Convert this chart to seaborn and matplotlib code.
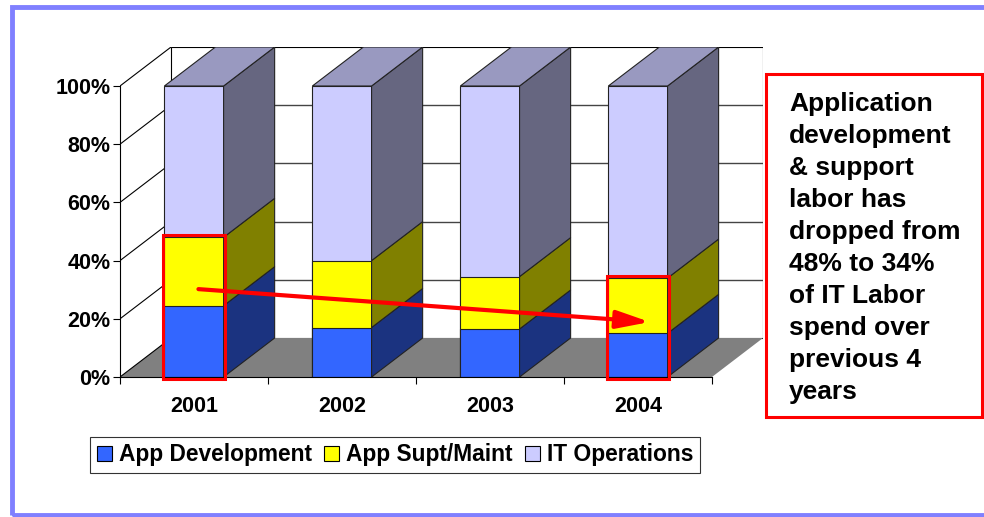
import numpy as np
import pandas as pd
import matplotlib
matplotlib.use("Agg")
import matplotlib.pyplot as plt
import seaborn as sns
from matplotlib.patches import Polygon, Rectangle, Patch

# values (percent of IT labor spend)
years = ["2001", "2002", "2003", "2004"]
app_dev = [24.5, 17, 16.5, 15]
app_supt = [23.5, 23, 18, 19]
it_ops = [52, 60, 65.5, 66]
series_names = ["App Development", "App Supt/Maint", "IT Operations"]
y_ticks = [0, 20, 40, 60, 80, 100]
y_tick_labels = ["0%", "20%", "40%", "60%", "80%", "100%"]
highlight = [0, 3]
note = ("Application\ndevelopment\n& support\nlabor has\ndropped from\n"
        "48% to 34%\nof IT Labor\nspend over\nprevious 4\nyears")

# front / side / top colours per series
front = ["#3366FF", "#FFFF00", "#CCCCFF"]
side = ["#1B3380", "#808000", "#666680"]
top_col = "#9999C0"

sns.set_theme(style="white")
plt.rcParams["font.family"] = ["Liberation Sans", "DejaVu Sans"]
plt.rcParams["font.weight"] = "bold"
for k in ["text.color", "xtick.color", "ytick.color", "axes.labelcolor"]:
    plt.rcParams[k] = "black"

df = pd.DataFrame({"year": years, "dev": app_dev, "supt": app_supt, "ops": it_ops})
df["c1"] = df["dev"]
df["c2"] = df["dev"] + df["supt"]
df["c3"] = df["c2"] + df["ops"]

W = 0.4      # bar width in category units
DX = 0.345   # depth offset, x
DY = 13.4    # depth offset, y (percent units)
n = len(years)
x0, x1 = -0.5, n - 0.5

fig = plt.figure(figsize=(9.84, 5.17), dpi=100)
ax = fig.add_axes([120 / 984, 1 - 377 / 517, 643 / 984, 330 / 517])

# back wall, floor, left-wall grid lines
ax.add_patch(Polygon([(x0 + DX, DY), (x1 + DX, DY), (x1 + DX, 100 + DY), (x0 + DX, 100 + DY)],
                     fc="white", ec="black", lw=0.8, zorder=0.1))
ax.add_patch(Polygon([(x0, 0), (x1, 0), (x1 + DX, DY), (x0 + DX, DY)],
                     fc="#808080", ec="none", zorder=0.2))
for v in y_ticks:
    ax.plot([x0, x0 + DX], [v, v + DY], color="black", lw=0.8, zorder=0.3)
    if 0 < v < 100:
        ax.plot([x0 + DX, x1 + DX], [v + DY, v + DY], color="#444444", lw=1, zorder=0.3)

# front faces with seaborn (tallest first so the stack shows)
for col, c in zip(["c3", "c2", "c1"], front[::-1]):
    sns.barplot(data=df, x="year", y=col, color=c, saturation=1, width=W,
                errorbar=None, edgecolor="#222222", linewidth=0.8, ax=ax, zorder=1)

# side and top faces
for i in range(n):
    xl, xr = i - W / 2, i + W / 2
    b = 0
    for col, sc in zip(["c1", "c2", "c3"], side):
        t = df[col][i]
        ax.add_patch(Polygon([(xr, b), (xr + DX, b + DY), (xr + DX, t + DY), (xr, t)],
                             fc=sc, ec="#222222", lw=0.8, zorder=1))
        b = t
    ax.add_patch(Polygon([(xl, b), (xr, b), (xr + DX, b + DY), (xl + DX, b + DY)],
                         fc=top_col, ec="#222222", lw=0.8, zorder=1))

# red highlight boxes and arrow
for i in highlight:
    ax.add_patch(Rectangle((i - W / 2 - 0.012, -0.8), W + 0.024, df["c2"][i] + 1.6,
                           fill=False, ec="red", lw=2.2, zorder=5, clip_on=False))
ax.annotate("", xy=(3.08, 18.9), xytext=(0.03, 30.2),
            arrowprops=dict(arrowstyle="-|>,head_length=1.0,head_width=0.27",
                            color="red", lw=3, shrinkA=0, shrinkB=0, mutation_scale=20),
            zorder=6)

ax.set_xlim(x0, x1 + DX)
ax.set_ylim(0, 100 + DY)
ax.set_xlabel("")
ax.set_ylabel("")
for s in ["top", "right"]:
    ax.spines[s].set_visible(False)
for s in ["left", "bottom"]:
    ax.spines[s].set_color("black")
    ax.spines[s].set_linewidth(0.8)
ax.spines["left"].set_bounds(0, 100)
ax.spines["bottom"].set_bounds(x0, x1)

ax.set_yticks(y_ticks, y_tick_labels)
ax.set_xticks(np.arange(x0, x1 + 0.01, 1.0), [""] * (n + 1))
ax.set_xticks(range(n), years, minor=True)
ax.tick_params(axis="y", direction="out", length=5, width=0.8, pad=2, labelsize=15.5, left=True)
ax.tick_params(axis="x", which="major", direction="out", length=5, width=0.8, bottom=True)
ax.tick_params(axis="x", which="minor", length=0, pad=14, labelsize=15.5)

# legend
handles = [Patch(fc=c, ec="black", lw=0.8) for c in front]
leg = fig.legend(handles, series_names, loc="center", bbox_to_anchor=(395 / 984, 1 - 455 / 517),
                 ncol=3, frameon=True, fancybox=False, edgecolor="black", fontsize=16.4,
                 handlelength=0.66, handleheight=0.66, handletextpad=0.31, columnspacing=0.53,
                 borderpad=0.3, borderaxespad=0)
leg.get_frame().set_linewidth(0.8)
for t in leg.get_texts():
    t.set_fontweight("bold")

# annotation box
fig.patches.append(Rectangle((766 / 984, 1 - 417 / 517), (982 - 766) / 984, (417 - 74) / 517,
                             transform=fig.transFigure, fill=False, ec="red", lw=2.2))
fig.text(789 / 984, 1 - 92 / 517, note, ha="left", va="top", fontsize=19,
         fontweight="bold", linespacing=1.42)

# outer frame
fig.patches.append(Rectangle((11.5 / 984, 2 / 517), (995 - 11.5) / 984, (510 - 2) / 517,
                             transform=fig.transFigure, fill=False, ec="#8080FF", lw=3.5,
                             clip_on=False))

fig.savefig("out.png", dpi=100, facecolor="white")
